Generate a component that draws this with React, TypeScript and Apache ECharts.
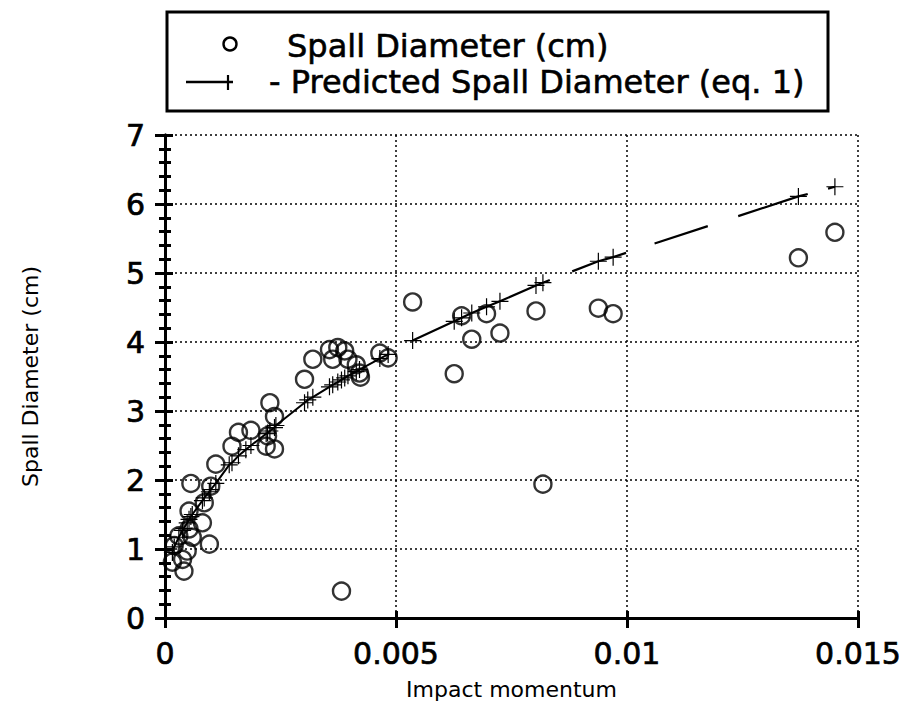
import React, { useEffect, useRef } from "react";
import * as echarts from "echarts";

const FONT = "'DejaVu Sans', Verdana, sans-serif";

// Measured spall diameters (impact momentum, cm)
const measuredX = [
  0.0145, 0.01371, 0.00938, 0.0097, 0.00803, 0.00696, 0.00642, 0.00725, 0.00664, 0.00626,
  0.00818, 0.00536, 0.00382,
  0.0032, 0.00302, 0.00227, 0.00237, 0.00159, 0.00186, 0.00145, 0.00222, 0.00237, 0.00219,
  0.0011, 0.00056, 0.00099, 0.00085, 0.00052, 0.00081, 0.00052, 0.00096, 0.00059, 0.00048,
  0.00038, 0.00041, 0.0002, 0.00016, 0.0003,
  0.00356, 0.00374, 0.00389, 0.00363, 0.00396, 0.00414, 0.00421, 0.00423, 0.00465, 0.00483,
];
const measuredY = [
  5.59, 5.22, 4.49, 4.41, 4.45, 4.41, 4.38, 4.13, 4.04, 3.54,
  1.94, 4.58, 0.39,
  3.75, 3.46, 3.12, 2.92, 2.69, 2.72, 2.49, 2.64, 2.45, 2.49,
  2.23, 1.95, 1.91, 1.67, 1.55, 1.38, 1.29, 1.07, 1.17, 0.97,
  0.85, 0.68, 1.05, 0.81, 1.19,
  3.89, 3.92, 3.87, 3.75, 3.75, 3.67, 3.55, 3.49, 3.84, 3.77,
];

// Predicted spall diameter (eq. 1) — lower run (solid trace)
const predictedLowX = [
  0.00016, 0.0002, 0.0003, 0.00038, 0.00041, 0.00048, 0.00052, 0.00056, 0.00059, 0.00081,
  0.00085, 0.00096, 0.00099, 0.0011, 0.00139, 0.00145, 0.00159, 0.00175, 0.00186, 0.00219,
  0.00222, 0.00227, 0.00237, 0.0024, 0.00302, 0.00309, 0.0032, 0.00356, 0.00363, 0.00374,
  0.00382, 0.00389, 0.00396, 0.00414, 0.00421, 0.00465, 0.00483,
];
const predictedLowY = [
  0.95, 1.03, 1.17, 1.27, 1.3, 1.38, 1.43, 1.47, 1.5, 1.7,
  1.74, 1.83, 1.86, 1.95, 2.22, 2.25, 2.35, 2.44, 2.5, 2.67,
  2.68, 2.71, 2.76, 2.79, 3.12, 3.16, 3.2, 3.35, 3.38, 3.42,
  3.45, 3.48, 3.51, 3.57, 3.6, 3.76, 3.82,
];
// Predicted spall diameter (eq. 1) — upper run (broken trace)
const predictedHighX = [
  0.00536, 0.00626, 0.00642, 0.00664, 0.00696, 0.00725, 0.00803, 0.00818, 0.00938, 0.0097,
  0.01371, 0.0145,
];
const predictedHighY = [
  4.02, 4.3, 4.35, 4.42, 4.51, 4.59, 4.82, 4.86, 5.17, 5.23,
  6.11, 6.25,
];

const xTicks = [0, 0.005, 0.01, 0.015];
const xTickLabels = ["0", "0.005", "0.01", "0.015"];
const yMin = 0;
const yMax = 7;

const PLUS =
  "path://M-0.07,-1 L0.07,-1 L0.07,-0.07 L1,-0.07 L1,0.07 L0.07,0.07 L0.07,1 L-0.07,1 L-0.07,0.07 L-1,0.07 L-1,-0.07 L-0.07,-0.07 Z";

export default function App() {
  const ref = useRef<HTMLDivElement>(null);
  useEffect(() => {
    if (!ref.current) return;
    const chart = echarts.init(ref.current, null, { renderer: "svg" });
    const black = "#000";
    const xBase = {
      type: "value" as const,
      min: xTicks[0],
      max: xTicks[xTicks.length - 1],
      interval: 0.005,
      axisLabel: { show: false },
      splitLine: { show: false },
    };
    const yBase = {
      type: "value" as const,
      min: yMin,
      max: yMax,
      interval: 1,
      axisLabel: { show: false },
      splitLine: { show: false },
    };
    const predictedCommon = {
      type: "line" as const,
      xAxisIndex: 0,
      yAxisIndex: 0,
      symbol: PLUS,
      symbolSize: 17,
      showAllSymbol: true,
      itemStyle: { color: black },
      z: 3,
    };
    chart.setOption({
      animation: false,
      backgroundColor: "#fff",
      grid: { left: 165, right: 51, top: 135, bottom: 86 },
      xAxis: [
        {
          ...xBase,
          position: "bottom",
          axisLine: { show: true, lineStyle: { color: black, width: 3 } },
          axisTick: { show: true, length: 9, lineStyle: { color: black, width: 3 } },
          axisLabel: {
            show: true,
            margin: 20,
            color: black,
            fontSize: 30,
            fontFamily: FONT,
            textBorderColor: black,
            textBorderWidth: 0.7,
            formatter: (v: number) => {
              const i = xTicks.findIndex((t) => Math.abs(t - v) < 1e-9);
              return i >= 0 ? xTickLabels[i] : "";
            },
          },
          splitLine: { show: true, lineStyle: { color: black, width: 1.5, type: [2, 3] } },
          name: "Impact momentum",
          nameLocation: "middle",
          nameGap: 60,
          nameTextStyle: { color: black, fontSize: 22, fontFamily: FONT },
        },
        {
          ...xBase,
          position: "bottom",
          axisLine: { show: false },
          axisTick: { show: true, inside: true, length: 6, lineStyle: { color: black, width: 3 } },
        },
        {
          ...xBase,
          position: "top",
          axisLine: { show: true, lineStyle: { color: black, width: 3 } },
          axisTick: { show: true, inside: true, length: 10, lineStyle: { color: black, width: 3 } },
        },
        {
          ...xBase,
          position: "top",
          axisLine: { show: false },
          axisTick: { show: true, length: 7, lineStyle: { color: black, width: 3 } },
        },
      ],
      yAxis: [
        {
          ...yBase,
          position: "left",
          axisLine: { show: true, lineStyle: { color: black, width: 3 } },
          axisTick: { show: true, length: 10, lineStyle: { color: black, width: 3 } },
          axisLabel: {
            show: true,
            margin: 20,
            color: black,
            fontSize: 30,
            fontFamily: FONT,
            textBorderColor: black,
            textBorderWidth: 0.7,
          },
          splitLine: { show: true, lineStyle: { color: black, width: 1.5, type: [2, 3] } },
          name: "Spall Diameter (cm)",
          nameLocation: "middle",
          nameGap: 124,
          nameTextStyle: { color: black, fontSize: 22, fontFamily: FONT },
        },
        {
          ...yBase,
          position: "left",
          axisLine: { show: false },
          axisTick: { show: true, inside: true, length: 7, lineStyle: { color: black, width: 3 } },
          minorTick: { show: true, splitNumber: 5, length: 6, lineStyle: { color: black, width: 3 } },
        },
        {
          ...yBase,
          position: "right",
          axisLine: { show: true, lineStyle: { color: black, width: 3 } },
          axisTick: { show: true, inside: true, length: 9, lineStyle: { color: black, width: 3 } },
          minorTick: { show: true, splitNumber: 5, length: 6, lineStyle: { color: black, width: 3 } },
        },
        {
          ...yBase,
          position: "right",
          axisLine: { show: false },
          axisTick: { show: true, length: 8, lineStyle: { color: black, width: 3 } },
        },
      ],
      series: [
        {
          ...predictedCommon,
          name: "Predicted Spall Diameter (eq. 1)",
          data: predictedLowX.map((x, i) => [x, predictedLowY[i]]),
          lineStyle: { color: black, width: 2 },
        },
        {
          ...predictedCommon,
          name: "Predicted Spall Diameter (eq. 1) ",
          data: predictedHighX.map((x, i) => [x, predictedHighY[i]]),
          lineStyle: { color: black, width: 2.2, type: [150, 24, 57, 30, 56, 32, 73, 21, 30] },
        },
        {
          name: "Spall Diameter (cm)",
          type: "scatter",
          xAxisIndex: 0,
          yAxisIndex: 0,
          data: measuredX.map((x, i) => [x, measuredY[i]]),
          symbol: "circle",
          symbolSize: 17,
          itemStyle: { color: "rgba(0,0,0,0)", borderColor: black, borderWidth: 2.4 },
          z: 4,
        },
      ],
      graphic: [
        {
          type: "rect",
          shape: { x: 167, y: 12, width: 661, height: 99 },
          style: { fill: "#fff", stroke: black, lineWidth: 3 },
          z: 10,
        },
        {
          type: "circle",
          shape: { cx: 230, cy: 44, r: 6.5 },
          style: { fill: "none", stroke: black, lineWidth: 2.4 },
          z: 11,
        },
        {
          type: "text",
          x: 287,
          y: 46,
          style: {
            text: "Spall Diameter (cm)",
            fill: black,
            stroke: black,
            lineWidth: 0.6,
            font: `32px ${FONT}`,
            verticalAlign: "middle",
          },
          z: 11,
        },
        {
          type: "line",
          shape: { x1: 186, y1: 82, x2: 233, y2: 82 },
          style: { stroke: black, lineWidth: 2.4 },
          z: 11,
        },
        {
          type: "line",
          shape: { x1: 228, y1: 75, x2: 228, y2: 90 },
          style: { stroke: black, lineWidth: 2.2 },
          z: 11,
        },
        {
          type: "text",
          x: 269,
          y: 82,
          style: {
            text: "- Predicted Spall Diameter (eq. 1)",
            fill: black,
            stroke: black,
            lineWidth: 0.6,
            font: `32px ${FONT}`,
            verticalAlign: "middle",
          },
          z: 11,
        },
      ],
    });
    return () => chart.dispose();
  }, []);
  return (
    <div
      ref={ref}
      style={{ position: "absolute", left: 0, top: 0, width: 909, height: 705 }}
    />
  );
}
